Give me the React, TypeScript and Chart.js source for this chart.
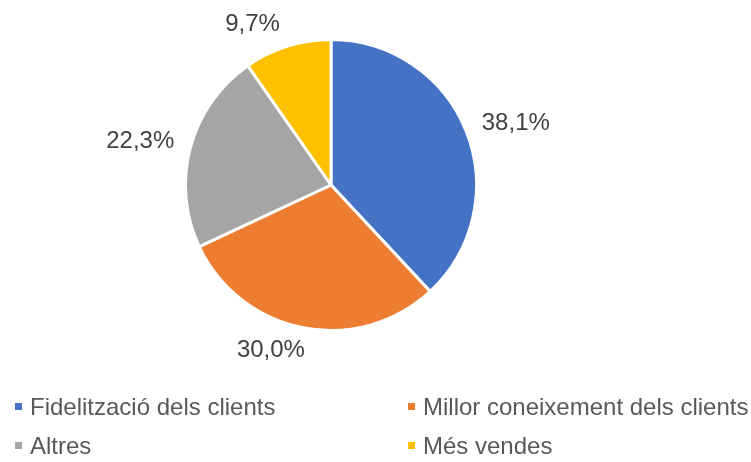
import React, { useEffect, useRef } from "react";
import { Chart, registerables } from "chart.js";

Chart.register(...registerables);

const categories = [
  "Fidelització dels clients",
  "Millor coneixement dels clients",
  "Altres",
  "Més vendes",
];
const values = [38.1, 30.0, 22.3, 9.7];
const colors = ["#4472C4", "#ED7D31", "#A5A5A5", "#FFC000"];

const FONT = "24px 'Liberation Sans', Arial, sans-serif";

const formatPct = (v: number) => v.toFixed(1).replace(".", ",") + "%";

const labelsPlugin = {
  id: "outsideLabels",
  afterDraw(chart: any) {
    const ctx = chart.ctx;
    const meta = chart.getDatasetMeta(0);
    const ds = chart.data.datasets[0];
    ctx.save();
    ctx.font = FONT;
    ctx.fillStyle = "#404040";
    ctx.textAlign = "center";
    ctx.textBaseline = "middle";
    meta.data.forEach((arc: any, i: number) => {
      const { x, y, startAngle, endAngle, outerRadius } = arc.getProps(
        ["x", "y", "startAngle", "endAngle", "outerRadius"],
        true
      );
      const mid = (startAngle + endAngle) / 2;
      const c = Math.cos(mid);
      const s = Math.sin(mid);
      const R = outerRadius + 23;
      const lx = x + R * c + Math.sign(c) * 28;
      const ly = y + R * s;
      ctx.fillText(formatPct(ds.data[i]), lx, ly);
    });
    ctx.restore();

    // custom two-column legend
    const labels = chart.data.labels as string[];
    const cols = [
      { sq: 15, tx: 30 },
      { sq: 408, tx: 423 },
    ];
    const rows = [415, 454];
    ctx.save();
    ctx.font = FONT;
    ctx.textAlign = "left";
    ctx.textBaseline = "alphabetic";
    labels.forEach((lab, i) => {
      const col = cols[i % 2];
      const base = rows[Math.floor(i / 2)];
      ctx.fillStyle = ds.backgroundColor[i];
      ctx.fillRect(col.sq, base - 12, 7, 7);
      ctx.fillStyle = "#595959";
      ctx.fillText(lab, col.tx, base);
    });
    ctx.restore();
  },
};

export default function App() {
  const ref = useRef<HTMLCanvasElement>(null);
  useEffect(() => {
    if (!ref.current) return;
    const chart = new Chart(ref.current, {
      type: "pie",
      data: {
        labels: categories,
        datasets: [
          {
            data: values,
            backgroundColor: colors,
            borderColor: "#ffffff",
            borderWidth: 3,
            hoverOffset: 0,
          },
        ],
      },
      options: {
        responsive: false,
        animation: false,
        events: [],
        layout: { padding: { left: 184, right: 273, top: 38, bottom: 130 } },
        plugins: {
          legend: { display: false },
          tooltip: { enabled: false },
        },
      },
      plugins: [labelsPlugin],
    });
    return () => chart.destroy();
  }, []);
  return (
    <div style={{ position: "absolute", left: 0, top: 0, width: 751, height: 462, background: "#fff" }}>
      <canvas ref={ref} width={751} height={462} style={{ width: 751, height: 462, display: "block" }} />
    </div>
  );
}
